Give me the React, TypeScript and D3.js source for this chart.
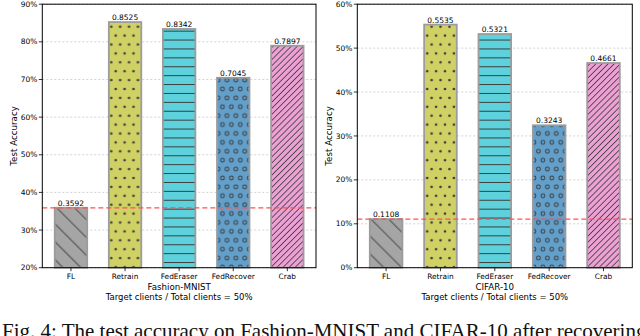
import React from 'react';
import * as d3 from 'd3';

// values
const methods = ['FL', 'Retrain', 'FedEraser', 'FedRecover', 'Crab'];
const fashionAcc = [0.3592, 0.8525, 0.8342, 0.7045, 0.7897];
const cifarAcc = [0.1108, 0.5535, 0.5321, 0.3243, 0.4661];
const fashionTicks = [0.2, 0.3, 0.4, 0.5, 0.6, 0.7, 0.8, 0.9];
const cifarTicks = [0, 0.1, 0.2, 0.3, 0.4, 0.5, 0.6];
const subtitle = 'Target clients / Total clients = 50%';

const fills = ['#a5a5a5', '#d0d164', '#5dd2dd', '#62a0cb', '#eca0d4'];
const hatchColor = '#3c3c3c';
const font = 'DejaVu Sans, sans-serif';

const Patterns = () => {
  const s = 8.9;
  return (
    <defs>
      <pattern id="h-fl" patternUnits="userSpaceOnUse" width={12.6} height={12.6} patternTransform="rotate(45)">
        <line x1={-1} y1={6} x2={14} y2={6} stroke={hatchColor} strokeWidth={0.9} />
      </pattern>
      <pattern id="h-retrain" patternUnits="userSpaceOnUse" width={s} height={2 * s}>
        {[[0, 0], [s, 0], [0, 2 * s], [s, 2 * s], [s / 2, s]].map(([x, y], i) =>
          <circle key={i} cx={x} cy={y} r={1.35} fill={hatchColor} />)}
      </pattern>
      <pattern id="h-eraser" patternUnits="userSpaceOnUse" width={20} height={s}>
        <line x1={0} y1={s / 2} x2={20} y2={s / 2} stroke={hatchColor} strokeWidth={1.05} />
      </pattern>
      <pattern id="h-recover" patternUnits="userSpaceOnUse" width={s} height={2 * s}>
        {[[0, 0], [s, 0], [0, 2 * s], [s, 2 * s], [s / 2, s]].map(([x, y], i) =>
          <circle key={i} cx={x} cy={y} r={1.9} fill="none" stroke={hatchColor} strokeWidth={1} />)}
      </pattern>
      <pattern id="h-crab" patternUnits="userSpaceOnUse" width={4.3} height={4.3} patternTransform="rotate(-45)">
        <line x1={-1} y1={2.15} x2={6} y2={2.15} stroke={hatchColor} strokeWidth={0.8} />
      </pattern>
    </defs>
  );
};
const hatchIds = ['h-fl', 'h-retrain', 'h-eraser', 'h-recover', 'h-crab'];

type PanelProps = {
  values: number[];
  ticks: number[];
  domain: [number, number];
  left: number;
  right: number;
  title: string;
  ylabelX: number;
};

const top = 4.2;
const bottom = 267.7;

const Panel = ({values, ticks, domain, left, right, title, ylabelX}: PanelProps) => {
  const x = d3.scaleLinear().domain([-0.53, 4.53]).range([left, right]);
  const y = d3.scaleLinear().domain(domain).range([bottom, top]);
  const bw = x(0.6) - x(0);
  const pct = d3.format('.0%');
  const cx = (left + right) / 2;
  const ref = values[0];
  return (
    <g fontFamily={font} fill="#000">
      {ticks.map(t => (
        <line key={'g' + t} x1={left} x2={right} y1={y(t)} y2={y(t)} stroke="#c8c8c8" strokeWidth={0.8} strokeDasharray="2,2" />
      ))}
      {values.map((v, i) => (
        <g key={methods[i]}>
          <rect x={x(i) - bw / 2} y={y(v)} width={bw} height={bottom - y(v)} fill={fills[i]} />
          <rect x={x(i) - bw / 2} y={y(v)} width={bw} height={bottom - y(v)} fill={`url(#${hatchIds[i]})`} />
          <rect x={x(i) - bw / 2} y={y(v)} width={bw} height={bottom - y(v)} fill="none" stroke="#9c9c9c" strokeWidth={1.8} />
          <text x={x(i)} y={y(v) - 2} textAnchor="middle" fontSize={7.5}>{v.toFixed(4)}</text>
        </g>
      ))}
      <line x1={left} x2={right} y1={y(ref)} y2={y(ref)} stroke="#ff4f4f" strokeWidth={1.25} strokeDasharray="5,3" />
      <rect x={left} y={top} width={right - left} height={bottom - top} fill="none" stroke="#000" strokeWidth={1} />
      {ticks.map(t => (
        <g key={'t' + t}>
          <line x1={left - 3.5} x2={left} y1={y(t)} y2={y(t)} stroke="#000" strokeWidth={0.8} />
          <text x={left - 5} y={y(t)} dy="0.35em" textAnchor="end" fontSize={7.5}>{pct(t)}</text>
        </g>
      ))}
      {methods.map((m, i) => (
        <g key={'x' + m}>
          <line x1={x(i)} x2={x(i)} y1={bottom} y2={bottom + 3.5} stroke="#000" strokeWidth={0.8} />
          <text x={x(i)} y={278.8} textAnchor="middle" fontSize={7.4}>{m}</text>
        </g>
      ))}
      <text x={cx} y={290} textAnchor="middle" fontSize={8.7}>{title}</text>
      <text x={cx} y={299.8} textAnchor="middle" fontSize={8.5}>{subtitle}</text>
      <text transform={`translate(${ylabelX},${(top + bottom) / 2}) rotate(-90)`} textAnchor="middle" fontSize={8.7}>Test Accuracy</text>
    </g>
  );
};

export default function App() {
  return (
    <svg width={640} height={336} style={{position: 'absolute', left: 0, top: 0, background: '#fff'}}>
      <Patterns />
      <Panel values={fashionAcc} ticks={fashionTicks} domain={[0.2, 0.9]} left={42.3} right={316} title="Fashion-MNIST" ylabelX={16.5} />
      <Panel values={cifarAcc} ticks={cifarTicks} domain={[0, 0.6]} left={357.3} right={632.3} title="CIFAR-10" ylabelX={331.5} />
      <text x={2} y={337.5} fontFamily="Liberation Serif, serif" fontSize={21} fill="#111">
        Fig. 4: The test accuracy on Fashion-MNIST and CIFAR-10 after recovering
      </text>
    </svg>
  );
}
